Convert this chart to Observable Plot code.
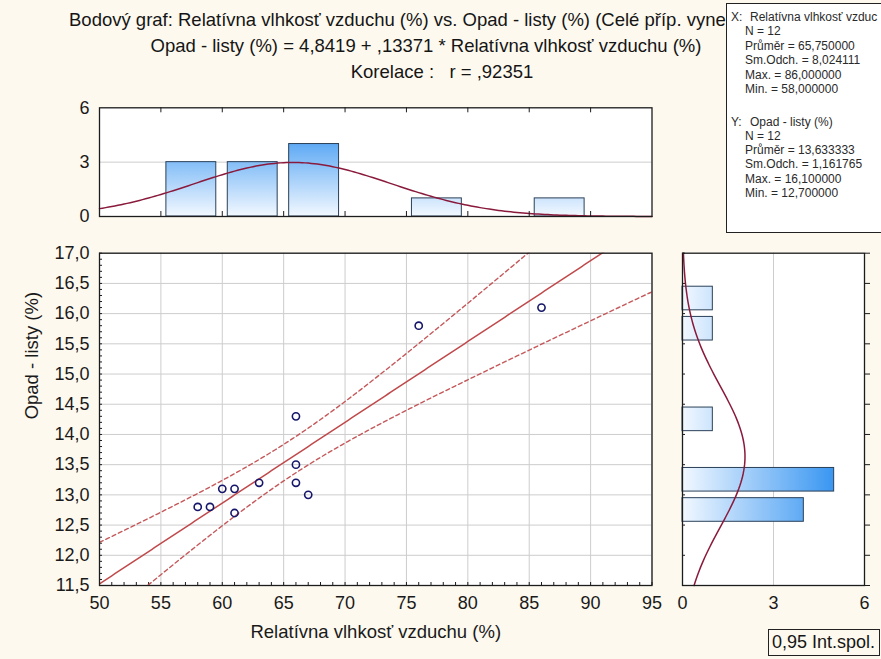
<!DOCTYPE html>
<html><head><meta charset="utf-8">
<script src="https://cdn.jsdelivr.net/npm/d3@7"></script>
<script src="https://cdn.jsdelivr.net/npm/@observablehq/plot@0.6"></script>
<style>
body{margin:0;background:#fdf9ef;}
#root{position:relative;width:881px;height:659px;overflow:hidden;background:#fdf9ef;font-family:"Liberation Sans",Arial,sans-serif;color:#151515;}
.t{position:absolute;white-space:nowrap;font-size:18.5px;line-height:22px;}
.c{transform:translateX(-50%);}
#stats{position:absolute;left:726px;top:3px;width:170px;height:230px;background:#fff;border:1px solid #222;box-sizing:border-box;font-size:12px;color:#2a2a2a;}
#stats div{position:absolute;white-space:nowrap;line-height:13px;}
#ci{position:absolute;left:768px;top:629px;width:112px;height:27px;border:1px solid #222;box-sizing:border-box;font-size:18px;line-height:22px;padding:1px 0 0 3px;white-space:nowrap;}
.p{position:absolute;}
</style></head>
<body><div id="root"></div>
<script>
// ---- data ----
const humidity = [58, 59, 60, 61, 61, 63, 66, 66, 66, 67, 76, 86];
const litter   = [12.8, 12.8, 13.1, 13.1, 12.7, 13.2, 14.3, 13.5, 13.2, 13.0, 15.8, 16.1];
const xBinStart = [55, 60, 65, 75, 85];
const xBinCount = [3, 3, 4, 1, 1];
const xBinWidth = 5;
const yBinStart = [12.5, 13.0, 14.0, 15.5, 16.0];
const yBinCount = [4, 5, 1, 1, 1];
const yBinWidth = 0.5;
const xTicks = [50, 55, 60, 65, 70, 75, 80, 85, 90, 95];
const yTicks = [11.5, 12, 12.5, 13, 13.5, 14, 14.5, 15, 15.5, 16, 16.5, 17];
const histTicks = [0, 3, 6];
const intercept = 4.8419, slope = 0.13371, rCoef = 0.92351;
const statsX = {name: "Relatívna vlhkosť vzduc", n: 12, mean: "65,750000", sd: "8,024111", max: "86,000000", min: "58,000000"};
const statsY = {name: "Opad - listy (%)", n: 12, mean: "13,633333", sd: "1,161765", max: "16,100000", min: "12,700000"};
const meanX = 65.75, sdX = 8.024111, meanY = 13.633333, sdY = 1.161765;
const tCrit = 2.228; // t(0.975, 10)

const root = document.getElementById("root");
const FONT = '"Liberation Sans", Arial, sans-serif';
const comma = d => d3.format(".1f")(d).replace(".", ",");

// ---- titles ----
function addDiv(cls, html, style, parent = root) {
  const d = document.createElement("div");
  d.className = cls; d.innerHTML = html; Object.assign(d.style, style); parent.appendChild(d); return d;
}
addDiv("t", "Bodový graf: Relatívna vlhkosť vzduchu (%) vs. Opad - listy (%) (Celé příp. vyne", {left: "69px", top: "9px"});
addDiv("t c", "Opad - listy (%) = 4,8419 + ,13371 * Relatívna vlhkosť vzduchu (%)", {left: "426px", top: "35px"});
addDiv("t c", "Korelace :&nbsp;&nbsp; r = ,92351", {left: "442px", top: "61px"});

// ---- derived curves ----
const pts = humidity.map((x, i) => ({x, y: litter[i]}));
const n = pts.length;
const mx = d3.mean(humidity);
const sxx = d3.sum(humidity, x => (x - mx) ** 2);
const sse = d3.sum(pts, p => (p.y - (intercept + slope * p.x)) ** 2);
const se = Math.sqrt(sse / (n - 2));
const xs = d3.range(50, 95.001, 0.25);
const reg = xs.map(x => ({x, y: intercept + slope * x}));
const half = x => tCrit * se * Math.sqrt(1 / n + (x - mx) ** 2 / sxx);
const ciUp = xs.map(x => ({x, y: intercept + slope * x + half(x)}));
const ciLo = xs.map(x => ({x, y: intercept + slope * x - half(x)}));
const pdf = (v, m, s) => Math.exp(-0.5 * ((v - m) / s) ** 2) / (s * Math.sqrt(2 * Math.PI));
const normTop = xs.map(x => ({x, y: n * xBinWidth * pdf(x, meanX, sdX)}));
const normRight = d3.range(11.5, 17.001, 0.05).map(y => ({y, x: n * yBinWidth * pdf(y, meanY, sdY)}));
const xBins = xBinStart.map((s, i) => ({x1: s, x2: s + xBinWidth, c: xBinCount[i]}));
const yBins = yBinStart.map((s, i) => ({y1: s, y2: s + yBinWidth, c: yBinCount[i]}));

function place(svg, left, topPx) {
  const w = document.createElement("div"); w.className = "p";
  w.style.left = left + "px"; w.style.top = topPx + "px";
  w.appendChild(svg); root.appendChild(w);
}
function gradient(svg, id, x1, y1, x2, y2, c1, c2) {
  const ns = "http://www.w3.org/2000/svg";
  const defs = document.createElementNS(ns, "defs");
  const g = document.createElementNS(ns, "linearGradient");
  g.setAttribute("id", id); g.setAttribute("gradientUnits", "userSpaceOnUse");
  g.setAttribute("x1", x1); g.setAttribute("y1", y1); g.setAttribute("x2", x2); g.setAttribute("y2", y2);
  [[0, c1], [1, c2]].forEach(([o, c]) => { const s = document.createElementNS(ns, "stop"); s.setAttribute("offset", o); s.setAttribute("stop-color", c); g.appendChild(s); });
  defs.appendChild(g); svg.insertBefore(defs, svg.firstChild);
}
const style = {background: "transparent", fontFamily: FONT, fontSize: "18px", color: "#1a1a1a", overflow: "visible"};
const gridC = "#cdcdcd", frameC = "#1c1c1c";
const DARK = "#1583ef", LIGHT = "#f2f8ff";
const FS = 18;

// ---- main scatter ----
const MW = 670, MH = 419, ML = 99, MR = 18.5, MT = 12.7, MB = 74;
const mainPlot = Plot.plot({
  width: MW, height: MH, marginLeft: ML, marginRight: MR, marginTop: MT, marginBottom: MB, style,
  x: {domain: [50, 95], label: null},
  y: {domain: [11.5, 17], label: null},
  marks: [
    Plot.frame({fill: "white", stroke: "none"}),
    Plot.gridX(xTicks, {stroke: gridC, strokeOpacity: 1}),
    Plot.gridY(yTicks, {stroke: gridC, strokeOpacity: 1}),
    Plot.tickY(d3.range(11.5, 17.001, 0.1), {y: d => d, stroke: frameC, insetRight: MW - ML - MR - 3}),
    Plot.tickX(d3.range(50, 95.001, 1), {x: d => d, stroke: frameC, insetTop: MH - MT - MB - 3}),
    Plot.axisX(xTicks, {tickSize: 0, tickPadding: 11, tickFormat: d => d, fontSize: FS}),
    Plot.axisY(yTicks, {tickSize: 0, tickPadding: 10, tickFormat: comma, fontSize: FS}),
    Plot.line(ciUp, {x: "x", y: "y", stroke: "#c4585a", strokeWidth: 1.4, strokeDasharray: "4,3", clip: true}),
    Plot.line(ciLo, {x: "x", y: "y", stroke: "#c4585a", strokeWidth: 1.4, strokeDasharray: "4,3", clip: true}),
    Plot.line(reg, {x: "x", y: "y", stroke: "#c0494b", strokeWidth: 1.5, clip: true}),
    Plot.dot(pts, {x: "x", y: "y", r: 3.6, stroke: "#16166a", strokeWidth: 1.6, fill: "none"}),
    Plot.frame({stroke: frameC, strokeWidth: 1.3}),
    Plot.text(["Relatívna vlhkosť vzduchu (%)"], {frameAnchor: "bottom", dy: 52, fontSize: 18.5}),
    Plot.text(["Opad - listy (%)"], {frameAnchor: "left", dx: -67, rotate: -90, fontSize: 18.5})
  ]
});
place(mainPlot, 0, 240);

// ---- top histogram ----
const TW = 670, TH = 135, TT = 12.3, TB = 14;
const topPlot = Plot.plot({
  width: TW, height: TH, marginLeft: ML, marginRight: MR, marginTop: TT, marginBottom: TB, style,
  x: {domain: [50, 95], axis: null},
  y: {domain: [0, 6], label: null},
  marks: [
    Plot.frame({fill: "white", stroke: "none"}),
    Plot.gridY([3], {stroke: gridC, strokeOpacity: 1}),
    Plot.rectY(xBins, {x1: "x1", x2: "x2", y: "c", fill: "url(#gTop)", stroke: "#2a4058", strokeWidth: 1, insetLeft: 5.5, insetRight: 6}),
    Plot.line(normTop, {x: "x", y: "y", stroke: "#8a1a3c", strokeWidth: 1.5}),
    Plot.tickX(xTicks.slice(1, -1), {x: d => d, stroke: frameC, insetTop: TH - TT - TB - 5}),
    Plot.tickX(xTicks.slice(1, -1), {x: d => d, stroke: frameC, insetBottom: TH - TT - TB - 5}),
    Plot.axisY(histTicks, {tickSize: 0, tickPadding: 10, fontSize: FS}),
    Plot.frame({stroke: frameC, strokeWidth: 1.3})
  ]
});
gradient(topPlot, "gTop", 0, TT, 0, TH - TB, DARK, LIGHT);
place(topPlot, 0, 95);

// ---- right histogram ----
const RW = 211, RL = 12, RR = 17;
const rightPlot = Plot.plot({
  width: RW, height: MH, marginLeft: RL, marginRight: RR, marginTop: MT, marginBottom: MB, style,
  x: {domain: [0, 6], label: null},
  y: {domain: [11.5, 17], axis: null},
  marks: [
    Plot.frame({fill: "white", stroke: "none"}),
    Plot.gridX([3], {stroke: gridC, strokeOpacity: 1}),
    Plot.rectX(yBins, {y1: "y1", y2: "y2", x: "c", fill: "url(#gRight)", stroke: "#2a4058", strokeWidth: 1, insetTop: 3.3, insetBottom: 3.3}),
    Plot.line(normRight, {x: "x", y: "y", stroke: "#8a1a3c", strokeWidth: 1.5}),
    Plot.tickY(yTicks, {y: d => d, stroke: frameC, insetRight: RW - RL - RR - 3}),
    Plot.axisY(yTicks, {anchor: "right", tickSize: 5, tickFormat: () => "", stroke: frameC}),
    Plot.axisX(histTicks, {tickSize: 0, tickPadding: 11, fontSize: FS}),
    Plot.frame({stroke: frameC, strokeWidth: 1.3})
  ]
});
gradient(rightPlot, "gRight", RL, 0, RW - RR, 0, LIGHT, DARK);
place(rightPlot, 670, 240);

// ---- stats box ----
const box = addDiv("", "", {}); box.id = "stats";
function group(head, rows, startTop, step) {
  const all = [head, ...rows];
  all.forEach((txt, i) => {
    const y = startTop + i * step;
    if (i === 0) {
      addDiv("", txt[0], {left: "4px", top: y + "px"}, box);
      addDiv("", txt[1], {left: "23px", top: y + "px"}, box);
    } else {
      addDiv("", txt, {left: "18px", top: y + "px"}, box);
    }
  });
}
group(["X:", statsX.name], ["N = " + statsX.n, "Průměr = " + statsX.mean, "Sm.Odch. = " + statsX.sd, "Max. = " + statsX.max, "Min. = " + statsX.min], 6.5, 14.5);
group(["Y:", statsY.name], ["N = " + statsY.n, "Průměr = " + statsY.mean, "Sm.Odch. = " + statsY.sd, "Max. = " + statsY.max, "Min. = " + statsY.min], 111.5, 14.3);
const ci = addDiv("", "0,95 Int.spol.", {}); ci.id = "ci";
</script></body></html>
